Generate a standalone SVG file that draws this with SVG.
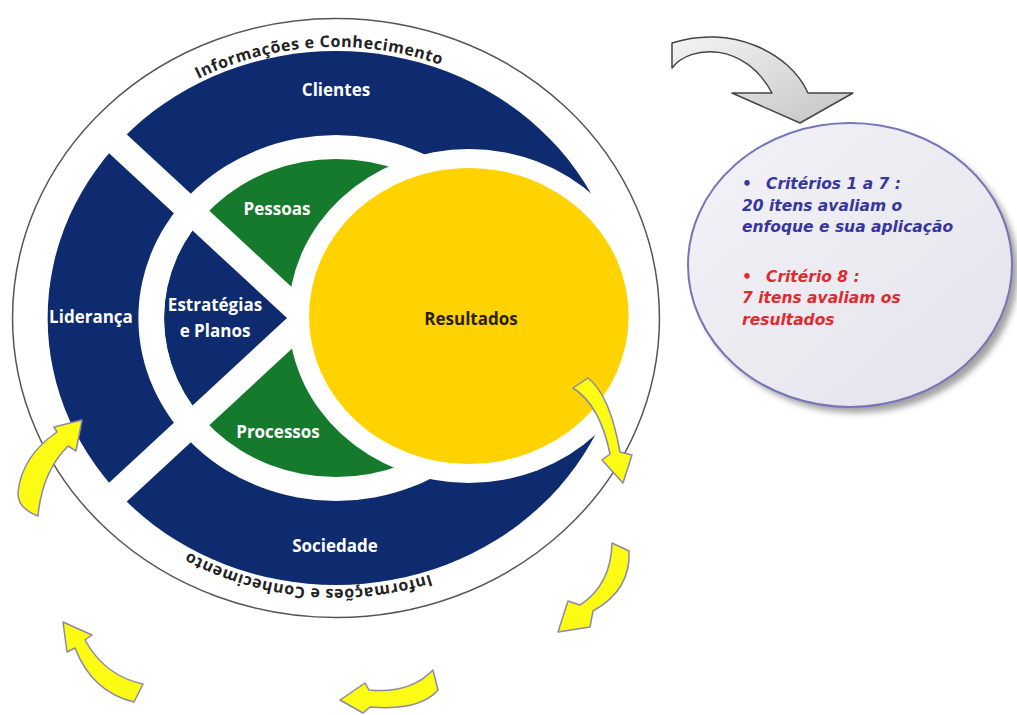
<svg xmlns="http://www.w3.org/2000/svg" width="1017" height="715" viewBox="0 0 1017 715">
<style>
.lbl{font-family:"Open Sans","Noto Sans",sans-serif;font-weight:700;font-size:17px;fill:#ffffff;text-anchor:middle}
.arc{font-family:"Open Sans","Noto Sans",sans-serif;font-weight:700;font-size:16px;fill:#222;letter-spacing:0.6px}
.crit{font-family:"DejaVu Sans",sans-serif;font-weight:700;font-style:italic;font-size:15.5px}
.blue{fill:#36369c}
.red{fill:#e02a2e}
.yarrow{fill:#fbfb14;stroke:#8c88a8;stroke-width:1.5;stroke-linejoin:round}
</style>
<defs>
<clipPath id="innerClip"><circle cx="0" cy="0" r="159"/></clipPath>
<path id="arcTop" d="M 43.3,318 A 292.7 271 0 0 1 628.7,318"/>
<path id="arcBot" d="M 628.7,318 A 292.7 271 0 0 1 43.3,318"/>
<linearGradient id="grayGrad" x1="0" y1="0" x2="1" y2="1">
<stop offset="0" stop-color="#f4f4f4"/><stop offset="1" stop-color="#c4c4c4"/>
</linearGradient>
<linearGradient id="ellGrad" x1="0" y1="0" x2="1" y2="1">
<stop offset="0" stop-color="#f3f2f7"/><stop offset="1" stop-color="#e4e3ec"/>
</linearGradient>
<filter id="blur" x="-20%" y="-20%" width="140%" height="140%"><feGaussianBlur stdDeviation="3"/></filter>
</defs>
<rect width="1017" height="715" fill="#ffffff"/>

<g id="model" transform="translate(336,318) scale(1.08,1)">
<circle id="outer-ring" cx="0" cy="0" r="299.5" fill="none" stroke="#555" stroke-width="1.5" vector-effect="non-scaling-stroke"/>
<circle cx="0" cy="0" r="267" fill="#0d2b6e"/>
<circle cx="0" cy="0" r="183" fill="#ffffff"/>
<circle cx="0" cy="0" r="159" fill="#157a2c"/>
<polygon points="-27.75,0 -227.75,-200 -320,-200 -320,200 -227.75,200" fill="#0d2b6e" clip-path="url(#innerClip)"/>
<line x1="-27.75" y1="0" x2="-210" y2="-182.25" stroke="#ffffff" stroke-width="25"/>
<line x1="-27.75" y1="0" x2="-210" y2="182.25" stroke="#ffffff" stroke-width="25"/>
<circle cx="123" cy="-2" r="167" fill="#ffffff"/>
<circle cx="123" cy="-2" r="148" fill="#ffd200"/>
</g>

<g id="labels">
<text id="clientes" class="lbl" x="336" y="96">Clientes</text>
<text id="pessoas" class="lbl" x="277" y="215">Pessoas</text>
<text id="estrategias" class="lbl" x="215" y="311">Estratégias</text>
<text class="lbl" x="215" y="337">e Planos</text>
<text id="lideranca" class="lbl" x="91" y="323">Liderança</text>
<text id="processos" class="lbl" x="278" y="438">Processos</text>
<text id="sociedade" class="lbl" x="335" y="552">Sociedade</text>
<text id="resultados" class="lbl" x="471" y="325" style="fill:#2a2208">Resultados</text>
<text class="arc"><textPath href="#arcTop" startOffset="425" text-anchor="middle">Informações e Conhecimento</textPath></text>
<text class="arc"><textPath href="#arcBot" startOffset="472" text-anchor="middle">Informações e Conhecimento</textPath></text>
</g>

<g id="connectors">
<path id="gray-arrow" d="M 672,68 C 690,44 745,42 772,93 L 732,93 L 800,123 L 853,93 L 808,93 C 790,52 730,24 672,43 Z" fill="url(#grayGrad)" stroke="#444" stroke-width="1.5" stroke-linejoin="round"/>
<path id="yarrow-a" class="yarrow" d="M 573,388 L 588,378 Q 610,395 620,452 L 632,455 L 623,483 L 602,460 L 610,454 Q 600,405 573,388 Z"/>
<path id="yarrow-b" class="yarrow" d="M 612,543 L 629,551 Q 631,590 593,611 L 590,627 L 558,632 L 568,601 L 580,605 Q 611,585 612,543 Z"/>
<path id="yarrow-c" class="yarrow" d="M 365,683 L 369,690 Q 410,694 433,670 L 438,690 Q 420,711 370,707 L 363,713 L 340,700 Z"/>
<path id="yarrow-d" class="yarrow" d="M 63,622 L 92,635 L 85,640 Q 105,676 143,684 L 134,702 Q 92,692 75,648 L 67,652 Z"/>
<path id="yarrow-e" class="yarrow" d="M 82,420 L 76,451 L 68,446 Q 42,472 38,516 Q 17,508 18,492 Q 22,456 57,432 L 54,427 Z"/>
</g>

<g id="criteria">
<ellipse cx="856" cy="271" rx="162" ry="142" fill="#555" opacity="0.55" filter="url(#blur)"/>
<ellipse cx="850" cy="265" rx="162" ry="142" fill="url(#ellGrad)" stroke="#7676b6" stroke-width="2"/>
<text class="crit blue" x="742" y="189">•</text>
<text class="crit blue" x="766" y="189">Critérios 1 a 7 :</text>
<text class="crit blue" x="742" y="211">20 itens avaliam o</text>
<text class="crit blue" x="742" y="232">enfoque e sua aplicação</text>
<text class="crit red" x="742" y="282">•</text>
<text class="crit red" x="766" y="282">Critério 8 :</text>
<text class="crit red" x="742" y="303">7 itens avaliam os</text>
<text class="crit red" x="742" y="325">resultados</text>
</g>
</svg>
